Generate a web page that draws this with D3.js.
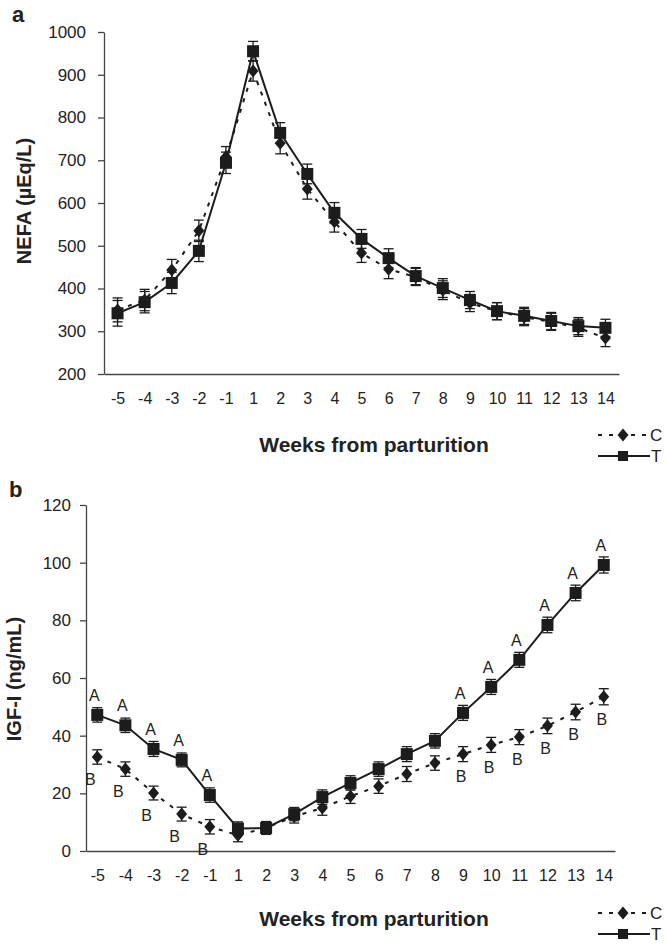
<!DOCTYPE html>
<html lang="en">

<head>
    <meta charset="UTF-8">
    <title>NEFA and IGF-I from parturition</title>
    <style>
        body { margin: 0; background: #fff; }
        text { font-family: "Liberation Sans", Arial, sans-serif; fill: #222; }
    </style>
</head>

<body>
    <script src="https://cdn.jsdelivr.net/npm/d3@7"></script>
    <script>
        const svg_w = 667;
        const svg_h = 945;

        const weeks = ["-5", "-4", "-3", "-2", "-1", "1", "2", "3", "4", "5", "6", "7", "8", "9", "10", "11", "12", "13", "14"];

        // panel a - NEFA (uEq/L)
        const nefaTicks = [200, 300, 400, 500, 600, 700, 800, 900, 1000];
        const nefaC = [350, 373, 443, 535, 708, 909, 740, 633, 556, 483, 445, 427, 396, 366, 347, 333, 322, 308, 284];
        const nefaCse = [28, 25, 25, 25, 24, 24, 25, 24, 24, 22, 22, 20, 22, 20, 20, 20, 20, 20, 20];
        const nefaT = [342, 368, 413, 488, 694, 955, 764, 668, 577, 516, 471, 429, 401, 373, 347, 336, 324, 312, 308];
        const nefaTse = [30, 25, 25, 25, 25, 23, 24, 23, 24, 22, 22, 20, 22, 20, 20, 20, 20, 20, 20];

        // panel b - IGF-I (ng/mL)
        const igfTicks = [0, 20, 40, 60, 80, 100, 120];
        const igfC = [32.6, 28.4, 20.1, 12.8, 8.4, 5.5, 8, 12, 14.9, 19, 22.5, 26.7, 30.5, 33.6, 36.8, 39.5, 43.4, 48.2, 53.5];
        const igfCse = [2.5, 2.5, 2.4, 2.4, 2.5, 2.3, 2.2, 2.3, 2.5, 2.5, 2.5, 2.6, 2.5, 2.6, 2.6, 2.6, 2.7, 2.7, 2.8];
        const igfT = [47.2, 43.6, 35.4, 31.6, 19.4, 7.8, 8, 12.8, 18.7, 23.6, 28.4, 33.6, 38.2, 47.9, 56.9, 66.3, 78.4, 89.5, 99.2];
        const igfTse = [2.5, 2.5, 2.6, 2.4, 2.5, 2.3, 2.2, 2.3, 2.5, 2.5, 2.5, 2.6, 2.5, 2.6, 2.6, 2.6, 2.7, 2.7, 2.8];
        const igfTletters = ["A", "A", "A", "A", "A", "", "", "", "", "", "", "", "", "A", "A", "A", "A", "A", "A"];
        const igfCletters = ["B", "B", "B", "B", "B", "", "", "", "", "", "", "", "", "B", "B", "B", "B", "B", "B"];

        const svg = d3.select('body')
            .append('svg')
            .attr('width', svg_w)
            .attr('height', svg_h)
            .style('background-color', '#fff');

        const ink = '#1c1c1c';

        function diamond(cx, cy) {
            return `M${cx},${cy - 6.5}L${cx + 5.5},${cy}L${cx},${cy + 6.5}L${cx - 5.5},${cy}Z`;
        }

        function drawPanel(p) {
            const g = svg.append('g');

            const x = d3.scalePoint().domain(weeks).range([p.x0, p.x1]).padding(p.pad);
            const y = d3.scaleLinear().domain(p.domain).range([p.y0, p.y1]);

            g.append('g')
                .attr('transform', `translate(${p.x0},0)`)
                .call(d3.axisLeft(y).tickValues(p.ticks).tickFormat(d3.format('d'))
                    .tickSize(6).tickSizeOuter(0).tickPadding(p.ytp))
                .call(a => a.selectAll('text').style('font-size', '17px').attr('fill', '#222'))
                .call(a => a.selectAll('line, path').attr('stroke', '#444').attr('stroke-width', 1.3));

            g.append('g')
                .attr('transform', `translate(0,${p.y0})`)
                .call(d3.axisBottom(x).tickSize(0).tickSizeOuter(0).tickPadding(19))
                .call(a => a.selectAll('text').style('font-size', '16px').attr('fill', '#222'))
                .call(a => a.select('path').attr('stroke', '#444').attr('stroke-width', 1.3));

            // axis titles + panel letter
            g.append('text')
                .attr('x', 374)
                .attr('y', p.y0 + p.xtDy)
                .attr('text-anchor', 'middle')
                .style('font-size', '21px')
                .style('font-weight', 'bold')
                .text('Weeks from parturition');

            g.append('text')
                .attr('transform', `translate(${p.titleX},${p.titleY}) rotate(-90)`)
                .attr('text-anchor', 'middle')
                .style('font-size', '20px')
                .style('font-weight', 'bold')
                .text(p.title);

            g.append('text')
                .attr('x', p.letterX)
                .attr('y', p.letterY)
                .style('font-size', '22px')
                .style('font-weight', 'bold')
                .text(p.letter);

            const line = d3.line()
                .x((d, i) => x(weeks[i]))
                .y(d => y(d));

            g.append('path')
                .attr('d', line(p.c))
                .attr('fill', 'none')
                .attr('stroke', ink)
                .attr('stroke-width', 2)
                .attr('stroke-dasharray', '4,7');

            g.append('path')
                .attr('d', line(p.t))
                .attr('fill', 'none')
                .attr('stroke', ink)
                .attr('stroke-width', 2);

            // error bars
            [[p.c, p.cse], [p.t, p.tse]].forEach(([vals, se]) => {
                vals.forEach((v, i) => {
                    const cx = x(weeks[i]);
                    const bar = g.append('g').attr('stroke', ink).attr('stroke-width', 1.3);
                    bar.append('line').attr('x1', cx).attr('x2', cx).attr('y1', y(v - se[i])).attr('y2', y(v + se[i]));
                    bar.append('line').attr('x1', cx - 5).attr('x2', cx + 5).attr('y1', y(v - se[i])).attr('y2', y(v - se[i]));
                    bar.append('line').attr('x1', cx - 5).attr('x2', cx + 5).attr('y1', y(v + se[i])).attr('y2', y(v + se[i]));
                });
            });

            g.selectAll('.dia')
                .data(p.c)
                .enter()
                .append('path')
                .attr('d', (d, i) => diamond(x(weeks[i]), y(d)))
                .attr('fill', ink);

            g.selectAll('.sq')
                .data(p.t)
                .enter()
                .append('rect')
                .attr('x', (d, i) => x(weeks[i]) - 6)
                .attr('y', d => y(d) - 6)
                .attr('width', 12)
                .attr('height', 12)
                .attr('fill', ink);

            if (p.tLetters) {
                g.selectAll('.la')
                    .data(p.tLetters)
                    .enter()
                    .append('text')
                    .attr('x', (d, i) => x(weeks[i]) - 3)
                    .attr('y', (d, i) => y(p.t[i]) - 14)
                    .attr('text-anchor', 'middle')
                    .style('font-size', '16px')
                    .text(d => d);

                g.selectAll('.lb')
                    .data(p.cLetters)
                    .enter()
                    .append('text')
                    .attr('x', (d, i) => x(weeks[i]) - (i < 5 ? 7 : 2))
                    .attr('y', (d, i) => y(p.c[i]) + 28)
                    .attr('text-anchor', 'middle')
                    .style('font-size', '16px')
                    .text(d => d);
            }

            // legend
            const lg = g.append('g').attr('transform', `translate(598,${p.legendY})`);
            lg.append('line').attr('x1', 0).attr('x2', 50).attr('y1', 0).attr('y2', 0)
                .attr('stroke', ink).attr('stroke-width', 2).attr('stroke-dasharray', '4,7');
            lg.append('path').attr('d', diamond(25, 0)).attr('fill', ink);
            lg.append('text').attr('x', 52).attr('y', 6).style('font-size', '17px').text('C');
            lg.append('line').attr('x1', 0).attr('x2', 52).attr('y1', 21).attr('y2', 21)
                .attr('stroke', ink).attr('stroke-width', 2);
            lg.append('rect').attr('x', 20).attr('y', 16).attr('width', 10).attr('height', 10).attr('fill', ink);
            lg.append('text').attr('x', 53).attr('y', 27).style('font-size', '17px').text('T');
        }

        drawPanel({
            x0: 104, x1: 619, pad: 0.5,
            y0: 374, y1: 32, domain: [200, 1000], ticks: nefaTicks, ytp: 12,
            c: nefaC, cse: nefaCse, t: nefaT, tse: nefaTse, xtDy: 78,
            title: 'NEFA (\u00b5Eq/L)', titleX: 31, titleY: 201,
            letter: 'a', letterX: 12, letterY: 22,
            legendY: 435
        });

        drawPanel({
            x0: 86, x1: 615, pad: 0.4,
            y0: 851, y1: 505, domain: [0, 120], ticks: igfTicks, ytp: 9,
            c: igfC, cse: igfCse, t: igfT, tse: igfTse, xtDy: 75,
            tLetters: igfTletters, cLetters: igfCletters,
            title: 'IGF-I (ng/mL)', titleX: 21, titleY: 679,
            letter: 'b', letterX: 9, letterY: 497,
            legendY: 913
        });
    </script>
</body>

</html>
